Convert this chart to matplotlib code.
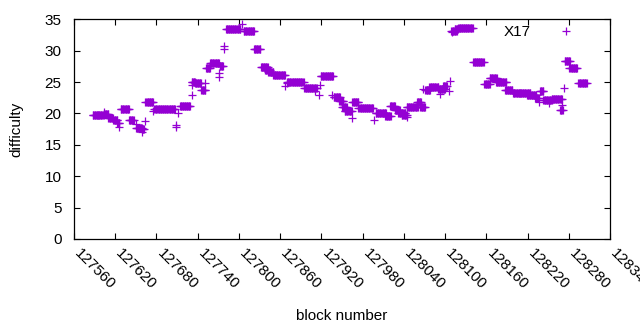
import numpy as np
import matplotlib
matplotlib.use("Agg")
import matplotlib.pyplot as plt
from matplotlib.transforms import ScaledTranslation

plt.rcParams['font.family'] = ['Liberation Sans', 'DejaVu Sans']

# Runs of consecutive blocks sharing a difficulty value (start block, end block, difficulty)
run_start = [127587, 127595, 127603, 127610, 127617, 127623, 127628, 127640, 127650, 127659,
             127664, 127677, 127714, 127731, 127736, 127745, 127752, 127758, 127772, 127781,
             127807, 127822, 127832, 127838, 127843, 127850, 127870, 127895, 127919, 127938,
             127946, 127950, 127954, 127965, 127974, 127999, 128013, 128020, 128027, 128032,
             128037, 128044, 128059, 128064, 128071, 128077, 128090, 128097, 128109, 128114,
             128119, 128141, 128157, 128165, 128174, 128187, 128199, 128209, 128219, 128231,
             128238, 128243, 128255, 128267, 128274, 128281, 128294]
run_end = [127595, 127603, 127610, 127617, 127623, 127626, 127640, 127647, 127659, 127662,
           127675, 127707, 127729, 127736, 127745, 127751, 127758, 127771, 127777, 127802,
           127822, 127831, 127842, 127845, 127850, 127867, 127894, 127913, 127937, 127947,
           127952, 127957, 127964, 127974, 127995, 128014, 128021, 128027, 128034, 128042,
           128044, 128060, 128065, 128071, 128078, 128090, 128100, 128103, 128117, 128119,
           128140, 128156, 128165, 128175, 128189, 128198, 128209, 128224, 128233, 128236,
           128243, 128255, 128270, 128271, 128282, 128292, 128306]
run_diff = [19.7, 19.8, 19.85, 19.35, 18.95, 18.45, 20.7, 18.95, 17.75, 17.45,
            21.75, 20.65, 21.25, 25.0, 24.8, 23.7, 27.2, 28.0, 27.5, 33.4,
            33.2, 30.2, 27.35, 27.0, 26.6, 26.1, 24.95, 24.0, 25.9, 22.6,
            22.0, 21.0, 20.4, 21.8, 20.9, 20.0, 19.6, 21.15, 20.6, 20.1,
            19.8, 21.1, 21.8, 21.0, 23.7, 24.2, 23.85, 24.45, 33.2, 33.45,
            33.65, 28.15, 24.65, 25.6, 25.0, 23.8, 23.3, 23.3, 23.0, 22.5,
            23.6, 22.1, 22.3, 20.6, 28.4, 27.2, 24.9]

# Isolated blocks
pt_block = [127625, 127650, 127659, 127663, 127675, 127708, 127708, 127712, 127731, 127731,
            127751, 127771, 127771, 127778, 127778, 127804, 127867, 127870, 127911, 127916,
            127918, 127936, 127965, 127997, 128044, 128068, 128093, 128106, 128107, 128110,
            128237, 128251, 128270, 128273, 127603]
pt_diff = [17.8, 18.4, 17.0, 18.8, 20.4, 18.2, 17.8, 20.0, 22.9, 24.5,
           24.8, 26.4, 25.8, 30.8, 30.3, 34.2, 24.4, 24.8, 23.5, 22.9,
           24.5, 22.9, 19.3, 18.95, 19.5, 23.85, 23.1, 23.5, 25.2, 32.9,
           21.8, 21.6, 21.35, 24.1, 20.3]

x_ticks = list(range(127560, 128341, 60))
y_ticks = [0, 5, 10, 15, 20, 25, 30, 35]

blocks = []
diffs = []
for s, e, d in zip(run_start, run_end, run_diff):
    for b in range(s, e + 1):
        blocks.append(b)
        diffs.append(d)
blocks += pt_block
diffs += pt_diff

color = '#9400D3'
fs = 11
fig = plt.figure(figsize=(6.4, 3.3), dpi=100)
ax = fig.add_axes([74/640, 1 - 239/330, 536/640, (239 - 19.3)/330])

ax.plot(blocks, diffs, linestyle='none', marker='+', ms=5.2, mew=0.9, color=color, label='X17')

ax.set_xlim(127560, 128340)
ax.set_ylim(0, 35)
ax.set_xticks(x_ticks)
ax.set_yticks(y_ticks)
ax.set_xticklabels([str(t) for t in x_ticks], rotation=-45, ha='left', va='center_baseline',
                   rotation_mode='anchor')
ax.tick_params(direction='in', length=4, width=0.8, top=True, right=True,
               labelsize=fs, colors='black')
ax.tick_params(axis='y', pad=9)
ax.tick_params(axis='x', pad=8)
shift = ScaledTranslation(4/100, 0, fig.dpi_scale_trans)
for lab in ax.get_xticklabels():
    lab.set_clip_on(False)
    lab.set_transform(lab.get_transform() + shift)
for sp in ax.spines.values():
    sp.set_linewidth(0.9)

ax.set_xlabel('block number', fontsize=fs, labelpad=12)
ax.set_ylabel('difficulty', fontsize=fs, labelpad=15)

leg = ax.legend(loc='center right', bbox_to_anchor=((581 - 74)/536, (239 - 32)/219.7),
                markerfirst=False, frameon=False, fontsize=fs, handlelength=2,
                handletextpad=1.3, borderpad=0, borderaxespad=0)

fig.savefig('out.png', dpi=100)
